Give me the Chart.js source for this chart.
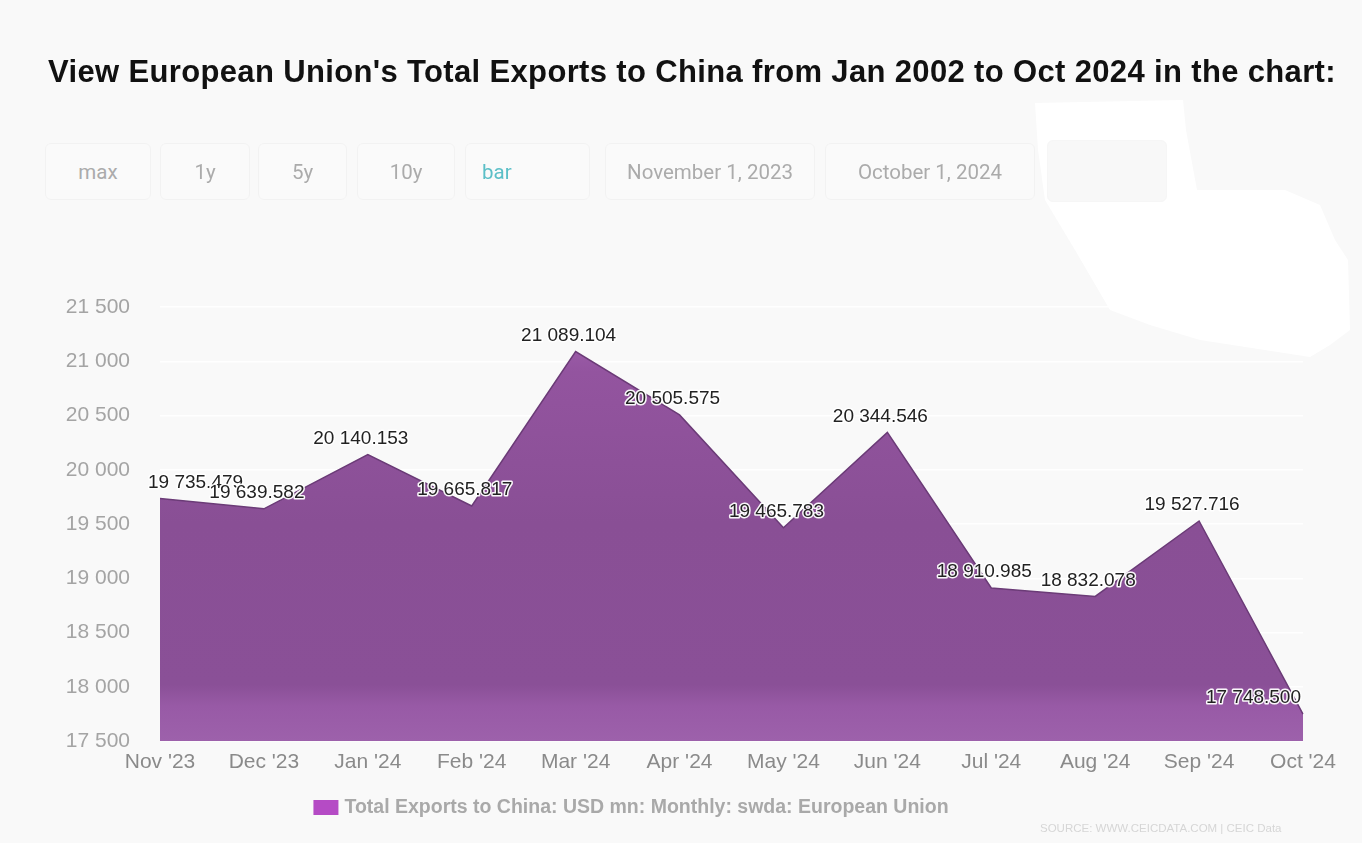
<!DOCTYPE html>
<html>
<head>
<meta charset="utf-8">
<script src="https://cdn.jsdelivr.net/npm/chart.js@4.4.1/dist/chart.umd.min.js"></script>
<style>
html,body{margin:0;padding:0;background:#f9f9f9;width:1362px;height:843px;overflow:hidden;font-family:"Liberation Sans",Arial,sans-serif}
#chart{position:absolute;left:0;top:0}
#title{position:absolute;left:11px;width:1362px;top:54px;text-align:center;font-weight:bold;font-size:31px;letter-spacing:0.35px;color:#111;line-height:36px;white-space:nowrap}
.btn{position:absolute;top:143px;height:57px;border:1px solid #f2f2f2;border-radius:6px;background:#fafafa;color:#ababab;font-family:Roboto,sans-serif;font-size:20.5px;line-height:57px;text-align:center;box-sizing:border-box}
#blob{position:absolute;left:0;top:0;width:1362px;height:843px;background:#fff;
clip-path:polygon(1035px 103px,1183px 100px,1186px 130px,1197px 190px,1285px 190px,1320px 205px,1335px 240px,1348px 260px,1350px 330px,1330px 345px,1310px 357px,1200px 340px,1150px 325px,1110px 310px,1075px 250px,1045px 200px,1038px 150px)}
#src{position:absolute;left:1040px;top:822px;font-size:11.5px;color:#d6d6d6;white-space:nowrap}
</style>
</head>
<body>
<canvas id="chart" width="1362" height="843"></canvas>
<div id="title">View European Union's Total Exports to China from Jan 2002 to Oct 2024 in the chart:</div>
<div class="btn" style="left:45px;width:106px">max</div>
<div class="btn" style="left:160px;width:90px">1y</div>
<div class="btn" style="left:258px;width:89px">5y</div>
<div class="btn" style="left:357px;width:98px">10y</div>
<div class="btn" style="left:465px;width:125px;color:#5bbfc7;text-align:left;padding-left:16px">bar</div>
<div class="btn" style="left:605px;width:210px">November 1, 2023</div>
<div class="btn" style="left:825px;width:210px">October 1, 2024</div>
<div id="blob"></div>
<div class="btn" style="left:1047px;width:120px;top:140px;height:62px;background:#f8f8f8;border-color:#f6f6f6"></div>
<div id="src">SOURCE: WWW.CEICDATA.COM | CEIC Data</div>
<script>
// ---- data ----
const categories = ["Nov '23","Dec '23","Jan '24","Feb '24","Mar '24","Apr '24","May '24","Jun '24","Jul '24","Aug '24","Sep '24","Oct '24"];
const exportsToChina = [19735.479,19639.582,20140.153,19665.817,21089.104,20505.575,19465.783,20344.546,18910.985,18832.078,19527.716,17748.500];
const yTickValues = [17500,18000,18500,19000,19500,20000,20500,21000,21500];
const seriesName = "Total Exports to China: USD mn: Monthly: swda: European Union";

const FONT = '"Liberation Sans", Arial, sans-serif';
function spaced(intStr){ return intStr.replace(/\B(?=(\d{3})+(?!\d))/g,' '); }
function fmtTick(v){ return spaced(String(Math.round(v))); }
function fmtLabel(v){ const p=v.toFixed(3).split('.'); return spaced(p[0])+'.'+p[1]; }

const valueLabels = {
  id:'valueLabels',
  afterDatasetsDraw(chart){
    const ctx=chart.ctx, meta=chart.getDatasetMeta(0), data=chart.data.datasets[0].data, ca=chart.chartArea;
    ctx.save();
    ctx.font='19px '+FONT; ctx.textAlign='center'; ctx.textBaseline='middle'; ctx.lineJoin='round';
    meta.data.forEach((pt,i)=>{
      const t=fmtLabel(data[i]); const w=ctx.measureText(t).width;
      let x=pt.x-7; x=Math.max(x, ca.left-12+w/2); x=Math.min(x, ca.right-2-w/2);
      const y=pt.y-16;
      ctx.strokeStyle='rgba(255,255,255,0.95)'; ctx.lineWidth=3; ctx.strokeText(t,x,y);
      ctx.fillStyle='#222'; ctx.fillText(t,x,y);
    });
    ctx.restore();
  }
};
const customLegend = {
  id:'customLegend',
  afterDraw(chart){
    const ctx=chart.ctx; const label=chart.data.datasets[0].label;
    ctx.save();
    ctx.font='bold 19.5px '+FONT;
    const tw=ctx.measureText(label).width, bw=25, gap=6, total=bw+gap+tw;
    const x0=631-total/2, yc=807;
    ctx.fillStyle='#b54bc5'; ctx.fillRect(x0, yc-7, bw, 15);
    ctx.fillStyle='#a9a9a9'; ctx.textBaseline='middle'; ctx.textAlign='left';
    ctx.fillText(label, x0+bw+gap, yc+1);
    ctx.restore();
  }
};

function areaFill(c){
  const ch=c.chart, ca=ch.chartArea;
  if(!ca) return '#8a5096';
  const g=ch.ctx.createLinearGradient(0,ca.top,0,ca.bottom);
  g.addColorStop(0,'#a465b4');
  g.addColorStop(0.15,'#93549f');
  g.addColorStop(0.5,'#894f95');
  g.addColorStop(0.87,'#8a5097');
  g.addColorStop(0.92,'#985aa6');
  g.addColorStop(1,'#9d61ab');
  return g;
}

new Chart(document.getElementById('chart'),{
  type:'line',
  data:{labels:categories,datasets:[{
    label:seriesName,data:exportsToChina,fill:'start',tension:0,
    borderColor:'#6b3b77',borderWidth:1.5,backgroundColor:areaFill,pointRadius:0
  }]},
  options:{
    responsive:false,animation:false,devicePixelRatio:1,
    layout:{padding:{top:307,right:59,left:0,bottom:0}},
    plugins:{legend:{display:false},tooltip:{enabled:false},title:{display:false}},
    scales:{
      x:{offset:false,grid:{display:false,drawTicks:false},border:{display:false},
         ticks:{color:'#8a8a8a',font:{size:21,family:FONT},padding:9,maxRotation:0,minRotation:0,autoSkip:false},
         afterFit(s){s.height=102;}},
      y:{min:17500,max:21500,
         afterBuildTicks(s){s.ticks=yTickValues.map(v=>({value:v}));},
         grid:{color:'#ffffff',lineWidth:1.5,drawTicks:false},border:{display:false},
         ticks:{color:'#a4a4a4',padding:30,font:{size:21,family:FONT},callback:v=>fmtTick(v)},
         afterFit(s){s.width=160;}}
    }
  },
  plugins:[valueLabels,customLegend]
});
</script>
</body>
</html>
